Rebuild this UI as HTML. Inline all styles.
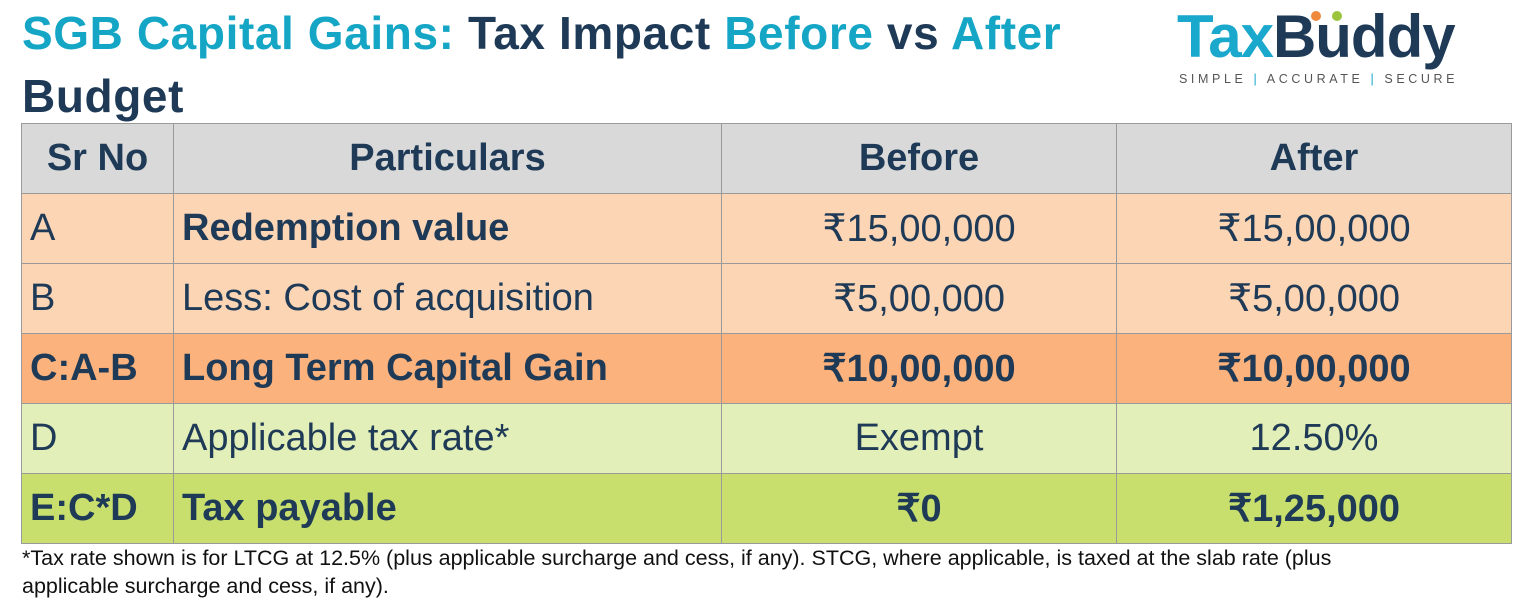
<!DOCTYPE html>
<html><head><meta charset="utf-8"><style>
body{margin:0;width:1529px;height:610px;background:#fff;font-family:"Liberation Sans",sans-serif;position:relative;overflow:hidden;color:#1e3a56}
.t{position:absolute;left:22px;font-weight:bold;font-size:46px;line-height:50px;letter-spacing:0.6px}
.c{color:#15a6c6}
table{position:absolute;left:21px;top:123px;border-collapse:collapse;table-layout:fixed}
td{border:1.5px solid #9a9a9a;height:69px;font-size:38px;padding:0 8px;white-space:nowrap;overflow:hidden}
.ctr{text-align:center}
.b{font-weight:bold}
.h td{background:#d9d9d9;font-weight:bold;text-align:center}
.r1 td,.r2 td{background:#fcd5b5}
.r3 td{background:#fbb27c;font-weight:bold}
.r4 td{background:#e3efb8}
.r5 td{background:#c8df6e;font-weight:bold}
.note{position:absolute;left:22px;top:544px;font-size:21.5px;line-height:28px;color:#111;width:1500px;white-space:nowrap}
</style></head><body>
<div class="t" style="top:8px"><span class="c">SGB Capital Gains:</span> Tax Impact <span class="c">Before</span> vs <span class="c">After</span></div>
<div class="t" style="top:71px">Budget</div>
<div style="position:absolute;left:1177px;top:2px;width:300px;height:90px">
 <div style="position:absolute;left:0;top:0;font-size:60px;font-weight:bold;letter-spacing:-1px;line-height:70px"><span style="color:#1aa8cc">Tax</span><span style="color:#1e3a56">Buddy</span></div>
 <div style="position:absolute;left:134px;top:9px;width:10px;height:10px;border-radius:50%;background:#ef8a3c"></div>
 <div style="position:absolute;left:155px;top:9px;width:10px;height:10px;border-radius:50%;background:#9cc43c"></div>
 <div style="position:absolute;left:2px;top:70px;font-size:12.5px;letter-spacing:3.6px;color:#555;white-space:nowrap">SIMPLE <span style="color:#1aa8cc">|</span> ACCURATE <span style="color:#1aa8cc">|</span> SECURE</div>
</div>
<table>
<colgroup><col style="width:152px"><col style="width:548px"><col style="width:395px"><col style="width:395px"></colgroup>
<tr class="h"><td>Sr No</td><td>Particulars</td><td>Before</td><td>After</td></tr>
<tr class="r1"><td>A</td><td class="b">Redemption value</td><td class="ctr">₹15,00,000</td><td class="ctr">₹15,00,000</td></tr>
<tr class="r2"><td>B</td><td>Less: Cost of acquisition</td><td class="ctr">₹5,00,000</td><td class="ctr">₹5,00,000</td></tr>
<tr class="r3"><td>C:A-B</td><td>Long Term Capital Gain</td><td class="ctr">₹10,00,000</td><td class="ctr">₹10,00,000</td></tr>
<tr class="r4"><td>D</td><td>Applicable tax rate*</td><td class="ctr">Exempt</td><td class="ctr">12.50%</td></tr>
<tr class="r5"><td>E:C*D</td><td>Tax payable</td><td class="ctr">₹0</td><td class="ctr">₹1,25,000</td></tr>
</table>
<div class="note">*Tax rate shown is for LTCG at 12.5% (plus applicable surcharge and cess, if any). STCG, where applicable, is taxed at the slab rate (plus<br>applicable surcharge and cess, if any).</div>
</body></html>
